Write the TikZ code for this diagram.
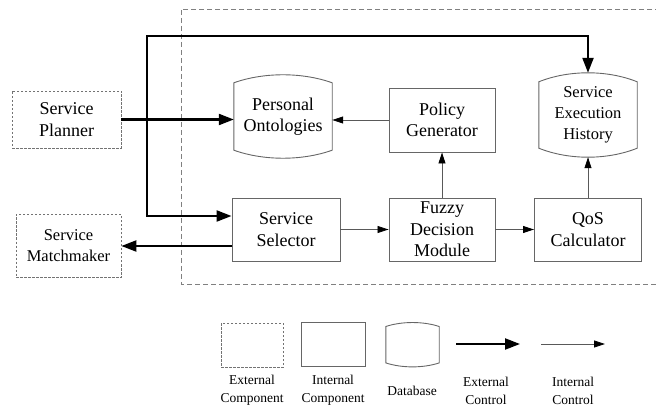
\documentclass[tikz,border=0pt]{standalone}
\usepackage{fontspec}
\setmainfont{Liberation Serif}
\usetikzlibrary{arrows.meta}

\begin{document}
\begin{tikzpicture}[x=1pt,y=-1pt,
  every node/.style={font=\fontsize{18}{21.5}\selectfont,align=center,inner sep=0pt},
  small/.style={font=\fontsize{16.5}{21}\selectfont},
  legtext/.style={font=\fontsize{13.5}{18}\selectfont},
  extbox/.style={draw=black!55,dash pattern=on 2.5pt off 1.5pt,line width=0.8pt},
  intbox/.style={draw=black!60,line width=0.9pt},
  dbline/.style={draw=black!60,line width=0.9pt},
  extctl/.style={line width=2.2pt,-{Triangle[length=15pt,width=11pt]}},
  intctl/.style={draw=black!65,line width=0.8pt,-{Triangle[length=11pt,width=7pt,color=black]}}]

  \useasboundingbox (0,0) rectangle (656,414);

  % boundary of the framework
  \draw[black!50,line width=0.9pt,dash pattern=on 5pt off 3pt]
    (660,9) -- (181,9) -- (181,284) -- (660,284);

  \node[extbox,minimum width=109pt,minimum height=57pt] (sp) at (66.5,119.5) {Service\\Planner};
  \node[extbox,small,minimum width=105pt,minimum height=63pt] (sm) at (68.5,246) {Service\\Matchmaker};
  \node[intbox,minimum width=108pt,minimum height=63pt] (ss) at (286,229.5) {Service\\Selector};
  \node[intbox,minimum width=106pt,minimum height=63pt] (fdm) at (442,229.5) {Fuzzy\\Decision\\Module};
  \node[intbox,minimum width=107pt,minimum height=63pt] (qos) at (588,229.5) {QoS\\Calculator};
  \node[intbox,minimum width=106pt,minimum height=64pt] (pg) at (442,120) {Policy\\Generator};
  \node[minimum width=98pt,minimum height=83pt] (po) at (283,116.5) {Personal\\Ontologies};
  \node[small,minimum width=98pt,minimum height=84pt] (seh) at (588,115) {Service\\Execution\\History};

  % legend
  \node[extbox,minimum width=62pt,minimum height=44pt] (lext) at (252,345) {};
  \node[intbox,minimum width=64pt,minimum height=44pt] (lint) at (333,344) {};
  \node[minimum width=53pt,minimum height=44pt] (db) at (412.5,344.7) {};
  \coordinate (ec1) at (456,344);
  \coordinate (ec2) at (520,344);
  \coordinate (ic1) at (541,344);
  \coordinate (ic2) at (605,344);
  \node[legtext] at (252,390.5) {External\\Component};
  \node[legtext] at (333,390.5) {Internal\\Component};
  \node[legtext] at (412,391) {Database};
  \node[legtext] at (486,390.5) {External\\Control};
  \node[legtext] at (573,390.5) {Internal\\Control};

  % database outlines
  \foreach \n/\d/\h/\c in {po/8/10.7/30,seh/9/12/30,db/4/5.3/16}
    \draw[dbline] ([yshift=-\d pt]\n.north west)
      .. controls +(\c pt,\h pt) and +(-\c pt,\h pt) .. ([yshift=-\d pt]\n.north east)
      -- ([yshift=\d pt]\n.south east)
      .. controls +(-\c pt,-\h pt) and +(\c pt,-\h pt) .. ([yshift=\d pt]\n.south west)
      -- cycle;

  % external control
  \coordinate (jn) at (147,119.5);
  \coordinate (top) at (147,36);
  \draw[extctl] (sp.east) -- (sp.east -| po.west);
  \draw[extctl] (jn) -- (top) -| (seh.north);
  \draw[extctl] (jn) |- ([yshift=13.5pt]ss.west);
  \draw[extctl] ([yshift=-16.5pt]ss.west) -- (sm.east);
  \draw[extctl] (ec1) -- (ec2);

  % internal control
  \draw[intctl] (pg.west) -- (pg.west -| po.east);
  \draw[intctl] (fdm.north) -- (pg.south);
  \draw[intctl] (ss.east) -- (fdm.west);
  \draw[intctl] (fdm.east) -- (qos.west);
  \draw[intctl] (qos.north) -- (seh.south);
  \draw[intctl] (ic1) -- (ic2);

\end{tikzpicture}
\end{document}
